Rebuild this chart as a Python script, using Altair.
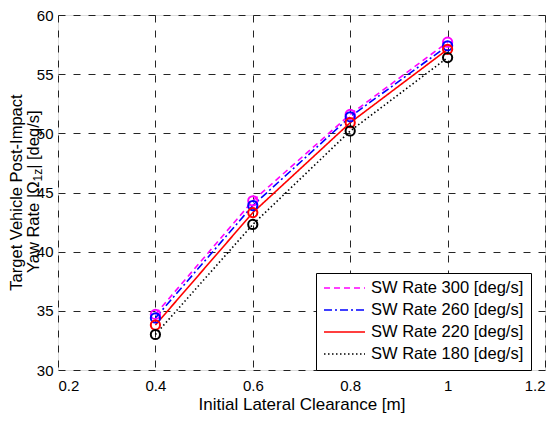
import altair as alt
import pandas as pd

# ---- data ----
clearance = [0.4, 0.6, 0.8, 1.0]
sw300 = [34.7, 44.3, 51.6, 57.7]
sw260 = [34.4, 43.9, 51.4, 57.4]
sw220 = [33.8, 43.3, 50.9, 57.1]
sw180 = [33.0, 42.3, 50.2, 56.4]

series_names = ["SW Rate 300 [deg/s]", "SW Rate 260 [deg/s]",
                "SW Rate 220 [deg/s]", "SW Rate 180 [deg/s]"]
series_vals = [sw300, sw260, sw220, sw180]
series_colors = ["#ff00ff", "#0000ff", "#ff0000", "#000000"]
series_dash = [[6, 4], [8, 3, 2, 3], [1, 0], [1.5, 2.5]]

x_ticks = [0.2, 0.4, 0.6, 0.8, 1.0, 1.2]
y_ticks = [30, 35, 40, 45, 50, 55, 60]

rows = []
for order, (name, vals) in enumerate(zip(series_names, series_vals)):
    for xv, yv in zip(clearance, vals):
        rows.append({"series": name, "x": xv, "y": yv, "order": order})
df = pd.DataFrame(rows)

W, H = 487, 355
FONT = "Liberation Sans"
TFS = 17
YTFS = 16.5
SUBFS = 12

# widths (Arial metrics, em units) used to place the pieces of the second title line
w_a = 5.641 * YTFS
w_b = 1.056 * SUBFS
w_c = 3.54 * YTFS
total = w_a + w_b + w_c
anchor = H / 2 + total / 2 - w_a

xenc = alt.X("x:Q", scale=alt.Scale(domain=[0.2, 1.2], nice=False),
             axis=alt.Axis(values=x_ticks, format="~g", title="Initial Lateral Clearance [m]",
                           grid=True, gridColor="#000000", gridDash=[7, 8], gridOpacity=0.85,
                           ticks=False, tickSize=0, domain=False, labelFontSize=15,
                           labelColor="black", labelPadding=8, titleFontSize=TFS,
                           titleFontWeight="normal", titleColor="black", titlePadding=3,
                           labelFont=FONT, titleFont=FONT))
yenc = alt.Y("y:Q", scale=alt.Scale(domain=[30, 60], nice=False),
             axis=alt.Axis(values=y_ticks, title=None,
                           grid=True, gridColor="#000000", gridDash=[7, 8], gridOpacity=0.85,
                           ticks=False, tickSize=0, domain=False, labelFontSize=15,
                           labelColor="black", labelPadding=5, labelFont=FONT))

color_scale = alt.Scale(domain=series_names, range=series_colors)
dash_scale = alt.Scale(domain=series_names, range=series_dash)

base = alt.Chart(df)

lines = base.mark_line(strokeWidth=1.6).encode(
    x=xenc, y=yenc,
    color=alt.Color("series:N", scale=color_scale,
                    legend=alt.Legend(title=None, orient="none", legendX=258, legendY=258,
                                      strokeColor="black", fillColor="white", padding=7,
                                      symbolType="stroke", symbolSize=1681,
                                      symbolStrokeWidth=1.6, labelFontSize=16.5,
                                      labelFont=FONT, labelColor="black", labelLimit=300,
                                      rowPadding=5, labelOffset=5, clipHeight=16)),
    strokeDash=alt.StrokeDash("series:N", scale=dash_scale, legend=None),
    order="order:Q",
    detail="series:N",
)

points = base.mark_point(shape="circle", filled=False, size=85, strokeWidth=2, opacity=1).encode(
    x="x:Q", y="y:Q",
    stroke=alt.Stroke("series:N", scale=color_scale, legend=None),
    order="order:Q",
)

# y-axis title (two lines, with subscript)
title_df = pd.DataFrame({"t": [0]})
t1 = alt.Chart(title_df).mark_text(text="Target Vehicle Post-Impact", angle=270, fontSize=YTFS,
                                   font=FONT, color="black", align="center",
                                   baseline="middle").encode(
    x=alt.value(-41), y=alt.value(H / 2))
t2a = alt.Chart(title_df).mark_text(text="Yaw Rate |Ω", angle=270, fontSize=YTFS, font=FONT,
                                    color="black", align="right", baseline="middle").encode(
    x=alt.value(-24.5), y=alt.value(anchor))
t2b = alt.Chart(title_df).mark_text(text="1z", angle=270, fontSize=SUBFS, font=FONT,
                                    color="black", align="left", baseline="middle").encode(
    x=alt.value(-20), y=alt.value(anchor))
t2c = alt.Chart(title_df).mark_text(text="| [deg/s]", angle=270, fontSize=YTFS, font=FONT,
                                    color="black", align="left", baseline="middle").encode(
    x=alt.value(-24.5), y=alt.value(anchor - w_b))

chart = alt.layer(lines, points, t1, t2a, t2b, t2c).resolve_scale(
    color="shared"
).properties(
    width=W, height=H,
    autosize=alt.AutoSizeParams(type="none"),
    padding={"left": 50, "top": 7, "right": 3, "bottom": 43},
    background="white",
).configure_view(
    stroke="black", strokeWidth=1
).configure(font=FONT)

chart.save("out.html", embed_options={"renderer": "svg", "actions": False})
